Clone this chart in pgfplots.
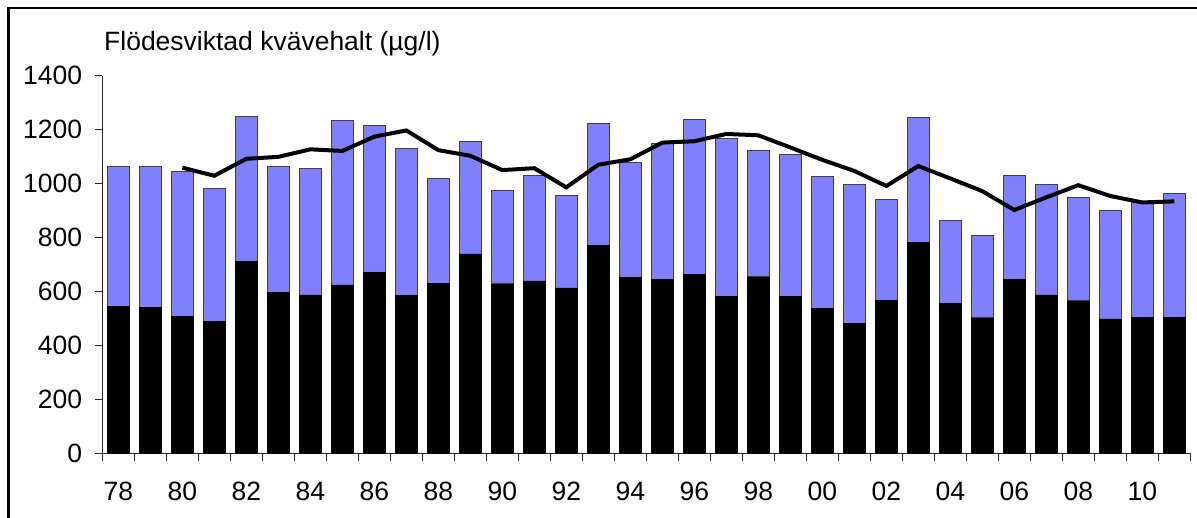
\documentclass[border=0pt]{standalone}
\usepackage{fontspec}
\setmainfont{Liberation Sans}
\usepackage{pgfplots}
\pgfplotsset{compat=1.18}
\usepackage{pgfplotstable}
\definecolor{barblue}{HTML}{8080FF}
\pgfplotstableread{
x k b
0 546 517
1 540 523
2 507 537
3 489 492
4 712 536
5 598 465
6 587 470
7 624 610
8 669 547
9 586 545
10 631 388
11 739 418
12 628 347
13 639 390
14 613 342
15 772 451
16 652 427
17 643 505
18 664 573
19 582 586
20 654 469
21 580 527
22 536 490
23 482 515
24 568 374
25 781 465
26 556 308
27 502 306
28 643 388
29 587 410
30 565 385
31 498 403
32 503 427
33 504 460
}\bars
\pgfplotstableread{
x l
2 1059
3 1029
4 1092
5 1099
6 1127
7 1121
8 1174
9 1197
10 1124
11 1103
12 1050
13 1057
14 986
15 1070
16 1090
17 1152
18 1157
19 1184
20 1179
21 1134
22 1088
23 1047
24 991
25 1065
26 1019
27 972
28 902
29 949
30 994
31 954
32 930
33 934
}\linedata
\newcommand\lab{\fontsize{26.5}{32}\selectfont}
\begin{document}
\lab
\begin{tikzpicture}[x=1pt,y=1pt]
\useasboundingbox (0,0) rectangle (1197,517);
\pgfplotsset{base/.style={
  at={(102.3pt,63.7pt)}, anchor=south west,
  scale only axis, width=1088pt, height=377.6pt,
  xmin=-0.5, xmax=33.5, ymin=0, ymax=1400,
}}
\begin{axis}[base,
  ybar stacked, bar width=21.7pt,
  axis x line*=bottom, axis y line*=left,
  axis line style={-, line width=1pt, black!85},
  tick style={line width=1pt, black!85},
  tick align=outside, major tick length=7.5pt,
  ytick={0,200,...,1400},
  /pgf/number format/1000 sep={},
  /pgf/number format/assume math mode=true,
  tick label style={font=\lab},
  yticklabel style={anchor=east, inner sep=0pt, xshift=-12.5pt},
  xtick={-0.5,0.5,...,33.5}, xticklabels={},
  extra x ticks={0,2,...,32},
  extra x tick labels={78,80,82,84,86,88,90,92,94,96,98,00,02,04,06,08,10},
  extra x tick style={major tick length=0pt, xticklabel style={anchor=base, inner sep=0pt, yshift=-47pt}},
]
\addplot[fill=black, draw=black, line width=0.8pt] table[x=x,y=k]{\bars};
\addplot[fill=barblue, draw=black!75, line width=0.9pt] table[x=x,y=b]{\bars};
\end{axis}
\begin{axis}[base, hide axis]
\addplot[black, line width=4pt, line join=miter, mark=none] table[x=x,y=l]{\linedata};
\end{axis}
\node[anchor=base west, inner sep=0pt] at (104,466) {Flödesviktad kvävehalt (µg/l)};
\draw[line width=2.5pt] (8.7,-10) -- (8.7,509.2) -- (1210,509.2);
\end{tikzpicture}
\end{document}
